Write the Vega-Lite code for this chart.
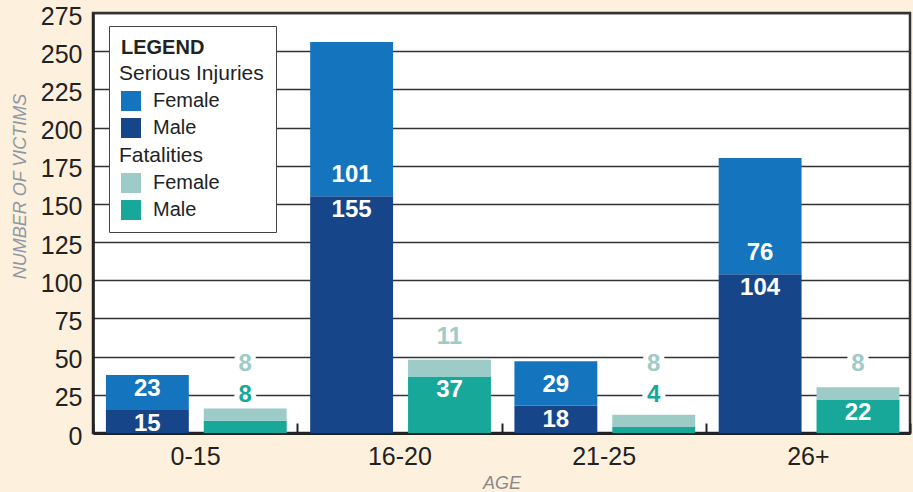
{
  "$schema": "https://vega.github.io/schema/vega-lite/v6.json",
  "width": 817,
  "height": 420,
  "autosize": {"type": "none"},
  "padding": {"left": 93, "top": 13, "right": 3, "bottom": 59},
  "background": "#fdf0dc",
  "config": {
    "view": {"fill": "white", "stroke": "#333333", "strokeWidth": 2.5},
    "font": "Liberation Sans",
    "axisY": {
      "labelOverlap": false,
      "labelFontSize": 25,
      "labelColor": "#222222",
      "ticks": false,
      "labelPadding": 11,
      "labelOffset": 3,
      "grid": true,
      "gridColor": "#333333",
      "gridWidth": 1.5,
      "domainColor": "#222222",
      "domainWidth": 2.5,
      "titleFontSize": 18,
      "titleFontStyle": "italic",
      "titleFontWeight": "normal",
      "titleColor": "#8d98a5",
      "titleX": -73,
      "titleY": 173,
      "titleBaseline": "middle"
    }
  },
  "data": {
    "values": [
      {"age": "0-15", "kind": "Serious Injuries", "sex": "Male", "series": "Serious Injuries Male", "value": 15},
      {"age": "0-15", "kind": "Serious Injuries", "sex": "Female", "series": "Serious Injuries Female", "value": 23},
      {"age": "0-15", "kind": "Fatalities", "sex": "Male", "series": "Fatalities Male", "value": 8},
      {"age": "0-15", "kind": "Fatalities", "sex": "Female", "series": "Fatalities Female", "value": 8},
      {"age": "16-20", "kind": "Serious Injuries", "sex": "Male", "series": "Serious Injuries Male", "value": 155},
      {"age": "16-20", "kind": "Serious Injuries", "sex": "Female", "series": "Serious Injuries Female", "value": 101},
      {"age": "16-20", "kind": "Fatalities", "sex": "Male", "series": "Fatalities Male", "value": 37},
      {"age": "16-20", "kind": "Fatalities", "sex": "Female", "series": "Fatalities Female", "value": 11},
      {"age": "21-25", "kind": "Serious Injuries", "sex": "Male", "series": "Serious Injuries Male", "value": 18},
      {"age": "21-25", "kind": "Serious Injuries", "sex": "Female", "series": "Serious Injuries Female", "value": 29},
      {"age": "21-25", "kind": "Fatalities", "sex": "Male", "series": "Fatalities Male", "value": 4},
      {"age": "21-25", "kind": "Fatalities", "sex": "Female", "series": "Fatalities Female", "value": 8},
      {"age": "26+", "kind": "Serious Injuries", "sex": "Male", "series": "Serious Injuries Male", "value": 104},
      {"age": "26+", "kind": "Serious Injuries", "sex": "Female", "series": "Serious Injuries Female", "value": 76},
      {"age": "26+", "kind": "Fatalities", "sex": "Male", "series": "Fatalities Male", "value": 22},
      {"age": "26+", "kind": "Fatalities", "sex": "Female", "series": "Fatalities Female", "value": 8}
    ]
  },
  "transform": [
    {"stack": "value", "groupby": ["age", "kind"], "sort": [{"field": "sex", "order": "descending"}], "as": ["v0", "v1"]}
  ],
  "encoding": {
    "x": {
      "field": "age",
      "type": "nominal",
      "sort": ["0-15", "16-20", "21-25", "26+"],
      "scale": {"paddingInner": 0, "paddingOuter": 0},
      "title": "AGE",
      "axis": {
        "labelAngle": 0,
        "labelFontSize": 25,
        "labelColor": "#222222",
        "tickBand": "extent",
        "tickSize": -10,
        "tickColor": "#222222",
        "tickWidth": 2,
        "labelPadding": 21,
        "domainColor": "#222222",
        "domainWidth": 3,
        "grid": false,
        "titleFontSize": 18,
        "titleFontStyle": "italic",
        "titleFontWeight": "normal",
        "titleColor": "#8a8a8a",
        "titleY": 50,
        "titleBaseline": "middle"
      }
    },
    "xOffset": {
      "field": "kind",
      "type": "nominal",
      "sort": ["Serious Injuries", "Fatalities"],
      "scale": {"paddingInner": 0.153, "paddingOuter": 0.12, "align": 0.55}
    }
  },
  "layer": [
    {
      "mark": {"type": "bar"},
      "encoding": {
        "y": {
          "field": "v1",
          "type": "quantitative",
          "scale": {"domain": [0, 275], "nice": false},
          "title": "NUMBER OF VICTIMS",
          "axis": {"values": [0, 25, 50, 75, 100, 125, 150, 175, 200, 225, 250, 275], "tickCount": 12, "labelOverlap": false}
        },
        "y2": {"field": "v0"},
        "color": {
          "field": "series",
          "type": "nominal",
          "scale": {
            "domain": ["Serious Injuries", "Serious Injuries Female", "Serious Injuries Male", "Fatalities", "Fatalities Female", "Fatalities Male"],
            "range": ["rgba(0,0,0,0)", "#1474be", "#174589", "rgba(0,0,0,0)", "#9dcbc7", "#17a89a"]
          },
          "legend": {
            "orient": "none",
            "legendX": 16,
            "legendY": 13,
            "title": "LEGEND",
            "titleFontSize": 20,
            "titleFontWeight": "bold",
            "titleColor": "#222222",
            "titlePadding": 6,
            "labelFontSize": 20,
            "labelColor": "#222222",
            "symbolType": "square",
            "symbolSize": 400,
            "symbolStrokeWidth": 0,
            "labelOffset": 12,
            "rowPadding": 7,
            "padding": 12,
            "fillColor": "white",
            "strokeColor": "#444444",
            "labelExpr": "indexof(datum.label, 'Female') >= 0 ? 'Female' : (indexof(datum.label, 'Male') >= 0 ? 'Male' : datum.label)",
            "encode": {
              "labels": {
                "update": {
                  "dx": {"signal": "datum.value === 'Serious Injuries' || datum.value === 'Fatalities' ? -34 : 0"},
                  "fontSize": {"signal": "datum.value === 'Serious Injuries' || datum.value === 'Fatalities' ? 21 : 20"}
                }
              }
            }
          }
        }
      }
    },
    {
      "transform": [{"filter": "datum.kind === 'Serious Injuries' && datum.sex === 'Female'"}],
      "mark": {"type": "text", "baseline": "middle", "font": "Liberation Sans", "fontWeight": "bold", "fontSize": 24, "color": "white", "dy": -21},
      "encoding": {"y": {"field": "v0", "type": "quantitative", "axis": {"values": [0, 25, 50, 75, 100, 125, 150, 175, 200, 225, 250, 275], "tickCount": 12, "labelOverlap": false}}, "text": {"field": "value", "type": "quantitative"}}
    },
    {
      "transform": [{"filter": "datum.sex === 'Male' && (datum.kind === 'Serious Injuries' || datum.value > 15)"}],
      "mark": {"type": "text", "baseline": "middle", "font": "Liberation Sans", "fontWeight": "bold", "fontSize": 24, "color": "white", "dy": 14},
      "encoding": {"y": {"field": "v1", "type": "quantitative", "axis": {"values": [0, 25, 50, 75, 100, 125, 150, 175, 200, 225, 250, 275], "tickCount": 12, "labelOverlap": false}}, "text": {"field": "value", "type": "quantitative"}}
    },
    {
      "transform": [{"filter": "datum.kind === 'Fatalities' && datum.sex === 'Male' && datum.value <= 15"}],
      "encoding": {"y": {"datum": 25, "type": "quantitative", "axis": {"values": [0, 25, 50, 75, 100, 125, 150, 175, 200, 225, 250, 275], "tickCount": 12, "labelOverlap": false}}, "text": {"field": "value", "type": "quantitative"}},
      "layer": [
        {"mark": {"type": "text", "baseline": "middle", "font": "Liberation Sans", "fontWeight": "bold", "fontSize": 24, "color": "white", "stroke": "white", "strokeWidth": 10, "dy": 0}},
        {"mark": {"type": "text", "baseline": "middle", "font": "Liberation Sans", "fontWeight": "bold", "fontSize": 24, "color": "#17a89a", "dy": 0}}
      ]
    },
    {
      "transform": [{"filter": "datum.kind === 'Fatalities' && datum.sex === 'Female' && datum.v1 >= 32"}],
      "encoding": {"y": {"field": "v1", "type": "quantitative", "axis": {"values": [0, 25, 50, 75, 100, 125, 150, 175, 200, 225, 250, 275], "tickCount": 12, "labelOverlap": false}}, "text": {"field": "value", "type": "quantitative"}},
      "layer": [
        {"mark": {"type": "text", "baseline": "middle", "font": "Liberation Sans", "fontWeight": "bold", "fontSize": 24, "color": "white", "stroke": "white", "strokeWidth": 10, "dy": -23}},
        {"mark": {"type": "text", "baseline": "middle", "font": "Liberation Sans", "fontWeight": "bold", "fontSize": 24, "color": "#9dcbc7", "dy": -23}}
      ]
    },
    {
      "transform": [{"filter": "datum.kind === 'Fatalities' && datum.sex === 'Female' && datum.v1 < 32"}],
      "encoding": {"y": {"datum": 32, "type": "quantitative", "axis": {"values": [0, 25, 50, 75, 100, 125, 150, 175, 200, 225, 250, 275], "tickCount": 12, "labelOverlap": false}}, "text": {"field": "value", "type": "quantitative"}},
      "layer": [
        {"mark": {"type": "text", "baseline": "middle", "font": "Liberation Sans", "fontWeight": "bold", "fontSize": 24, "color": "white", "stroke": "white", "strokeWidth": 10, "dy": -20}},
        {"mark": {"type": "text", "baseline": "middle", "font": "Liberation Sans", "fontWeight": "bold", "fontSize": 24, "color": "#9dcbc7", "dy": -20}}
      ]
    }
  ]
}
